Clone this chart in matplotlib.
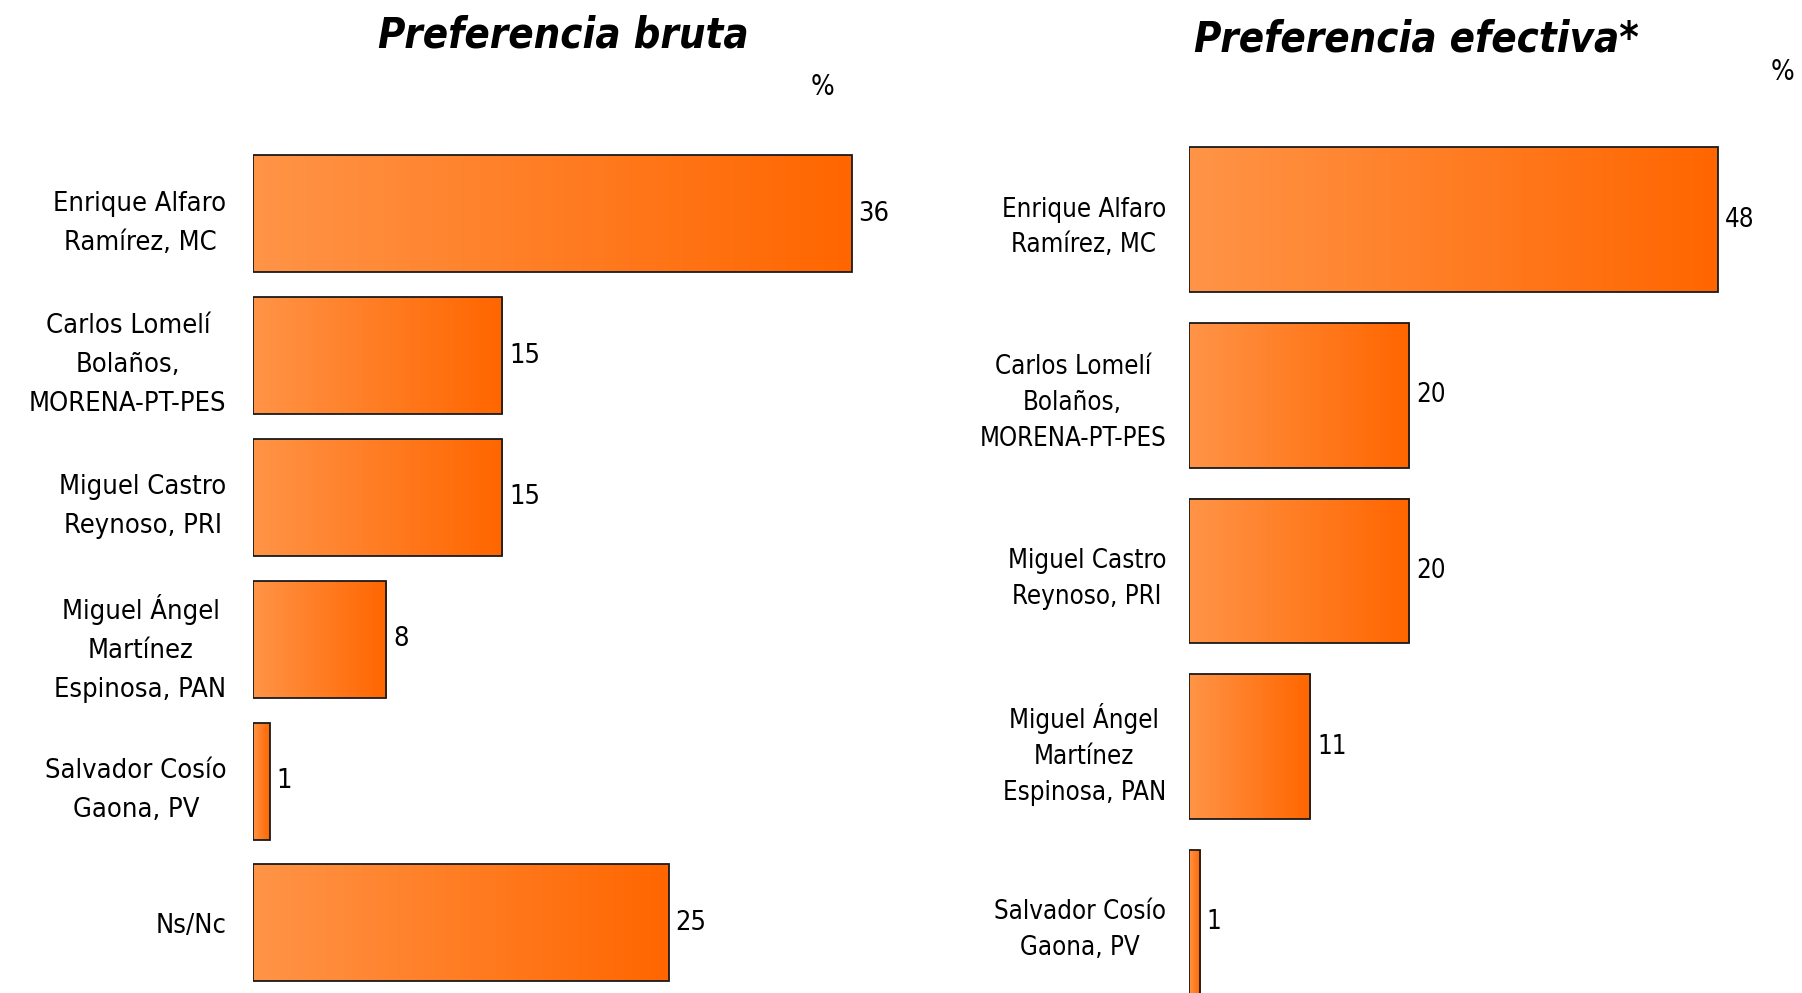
import numpy as np
import matplotlib.pyplot as plt
from matplotlib.colors import LinearSegmentedColormap

# datos
bruta_labels = ['Enrique Alfaro\nRamírez, MC',
                'Carlos Lomelí\nBolaños,\nMORENA-PT-PES',
                'Miguel Castro\nReynoso, PRI',
                'Miguel Ángel\nMartínez\nEspinosa, PAN',
                'Salvador Cosío\nGaona, PV',
                'Ns/Nc']
bruta_values = [36, 15, 15, 8, 1, 25]

efectiva_labels = ['Enrique Alfaro\nRamírez, MC',
                   'Carlos Lomelí\nBolaños,\nMORENA-PT-PES',
                   'Miguel Castro\nReynoso, PRI',
                   'Miguel Ángel\nMartínez\nEspinosa, PAN',
                   'Salvador Cosío\nGaona, PV']
efectiva_values = [48, 20, 20, 11, 1]

plt.rcParams['font.family'] = ['DejaVu Sans']
plt.rcParams['font.stretch'] = 'condensed'

cmap = LinearSegmentedColormap.from_list('naranja', ['#FF9447', '#FF6600'])
grad = np.linspace(0, 1, 256).reshape(1, -1)


def panel(ax, labels, values, xmax, ylim, fs, pad, linesp):
    y = np.arange(len(values))
    bars = ax.barh(y, values, height=0.825, facecolor='none',
                   edgecolor='#1a1a1a', linewidth=1.3, zorder=3)
    for b in bars:
        x0, y0 = b.get_x(), b.get_y()
        w, h = b.get_width(), b.get_height()
        ax.imshow(grad, cmap=cmap, extent=(x0, x0 + w, y0 + h, y0),
                  aspect='auto', zorder=2, interpolation='bilinear')
    for yi, v in zip(y, values):
        ax.annotate(str(v), (v, yi), xytext=(5, 0), textcoords='offset points',
                    va='center', ha='left', fontsize=fs, fontstretch='condensed')
    ax.set_xlim(0, xmax)
    ax.set_ylim(*ylim)
    ax.set_yticks(y)
    ax.set_yticklabels(labels, fontsize=fs, ha='right', multialignment='center',
                       linespacing=linesp, fontstretch='condensed')
    ax.tick_params(axis='y', length=0, pad=pad)
    ax.set_xticks([])
    for s in ax.spines.values():
        s.set_visible(False)


fig = plt.figure(figsize=(18.02, 9.93), dpi=100)

ax1 = fig.add_axes([0.1404, 0.0064, 0.359, 0.8640])
panel(ax1, bruta_labels, bruta_values, 38.9, (5.45, -0.6), 19.5, 19, 1.65)

ax2 = fig.add_axes([0.6598, -0.035, 0.318, 0.920])
panel(ax2, efectiva_labels, efectiva_values, 52, (4.6, -0.6), 18.5, 16.5, 1.48)

fig.text(0.3124, 0.964, 'Preferencia bruta', ha='center', va='center',
         fontsize=30, fontweight='bold', fontstyle='oblique', fontstretch='condensed')
fig.text(0.786, 0.960, 'Preferencia efectiva*', ha='center', va='center',
         fontsize=30, fontweight='bold', fontstyle='oblique', fontstretch='condensed')
fig.text(0.4567, 0.912, '%', ha='center', va='center', fontsize=20,
         fontstretch='condensed')
fig.text(0.9894, 0.927, '%', ha='center', va='center', fontsize=20,
         fontstretch='condensed')

fig.savefig('out.png', dpi=100)
